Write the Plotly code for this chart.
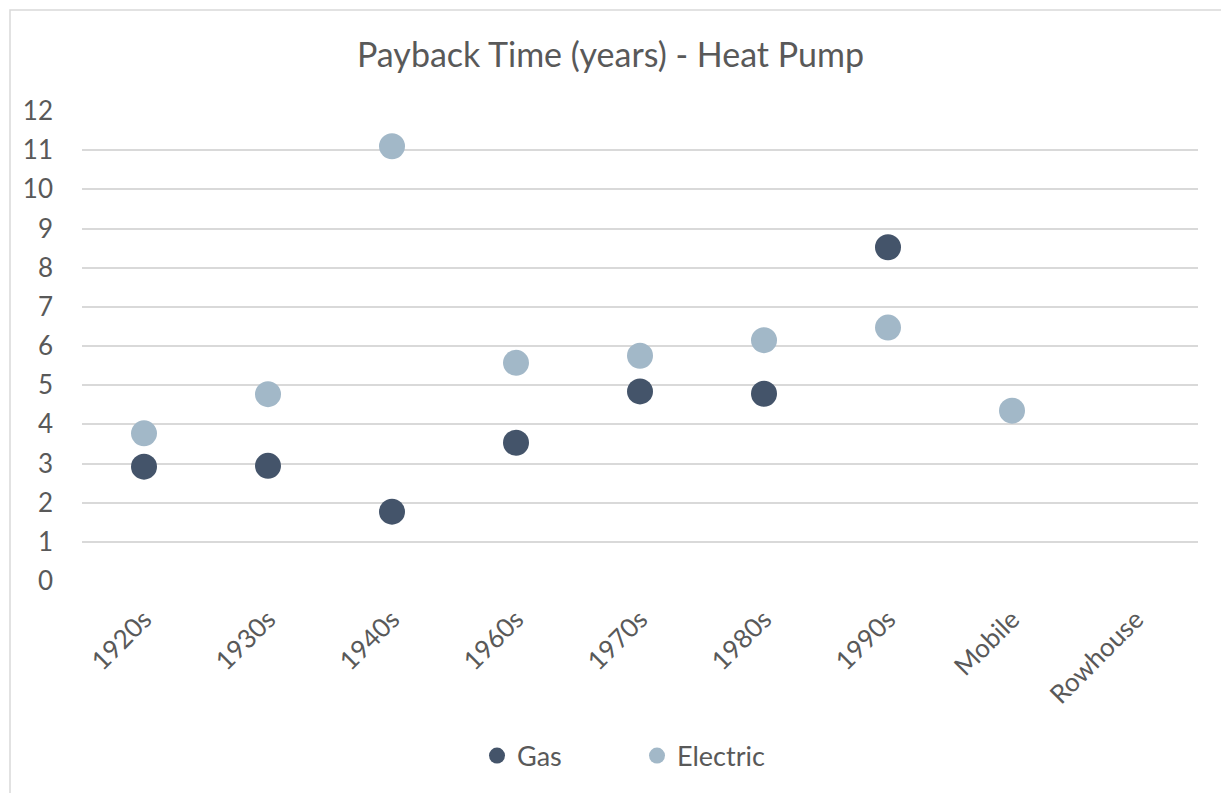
import plotly.graph_objects as go

categories = ["1920s", "1930s", "1940s", "1960s", "1970s", "1980s", "1990s", "Mobile", "Rowhouse"]
gas = [2.92, 2.94, 1.77, 3.53, 4.84, 4.78, 8.52, None, None]
electric = [3.77, 4.77, 11.1, 5.57, 5.75, 6.15, 6.47, 4.35, None]
y_ticks = list(range(0, 13))

W, H = 1221, 793
L, R, T, B = 82, 23, 111, 212

fig = go.Figure()
fig.add_trace(go.Scatter(x=categories, y=gas, mode="markers", name="Gas",
                         marker=dict(color="#44546a", size=26, line=dict(width=0)),
                         cliponaxis=False))
fig.add_trace(go.Scatter(x=categories, y=electric, mode="markers", name="Electric",
                         marker=dict(color="#a2b8c8", size=26, line=dict(width=0)),
                         cliponaxis=False))

pw = W - L - R
ph = H - T - B
# chart-area frame (light gray border)
fig.add_shape(type="rect", xref="paper", yref="paper",
              x0=(10 - L) / pw, x1=(W + 20 - L) / pw,
              y0=-(B + 20) / ph, y1=(H - B - 10) / ph,
              line=dict(color="#d9d9d9", width=1.5), fillcolor="rgba(0,0,0,0)", layer="below")

fig.update_layout(
    width=W, height=H,
    margin=dict(l=L, r=R, t=T, b=B),
    paper_bgcolor="white", plot_bgcolor="white",
    font=dict(family="Lato, Open Sans, sans-serif", color="#595959", size=26),
    title=dict(text="Payback Time (years) - Heat Pump", x=0.5, xanchor="center",
               xref="container", yref="container", y=1 - 55 / H, yanchor="middle",
               font=dict(size=34, color="#595959")),
    showlegend=True,
    legend=dict(orientation="h", x=(497 - 20) / W, xanchor="left", xref="container",
                yref="container", y=1 - 756 / H, yanchor="middle",
                font=dict(size=27, color="#595959"), itemsizing="trace",
                entrywidth=115, entrywidthmode="pixels", itemwidth=30),
    xaxis=dict(type="category", categoryorder="array", categoryarray=categories,
               range=[-0.5, len(categories) - 0.5], showgrid=False, zeroline=False,
               showline=False, ticks="", tickangle=-45, tickfont=dict(size=26),
               ticklabelstandoff=17),
    yaxis=dict(range=[0, 12], tickvals=y_ticks, showgrid=True, gridcolor="#d9d9d9",
               gridwidth=1.5, zeroline=False, showline=False, ticks="",
               tickfont=dict(size=26), ticklabelstandoff=28),
)

fig.write_html("out.html", config={"displayModeBar": False},
               post_script="document.body.style.margin='0';")
